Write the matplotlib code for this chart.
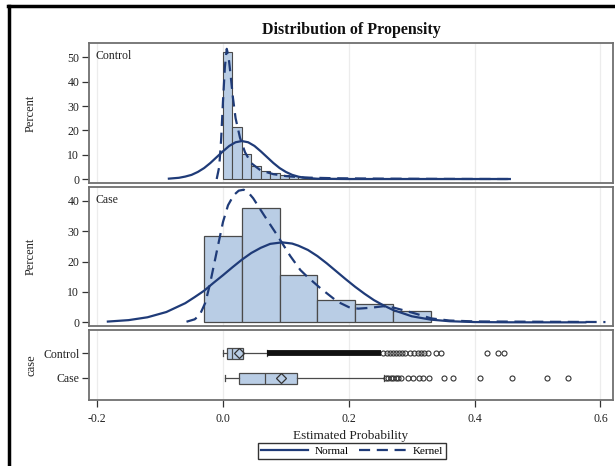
import numpy as np
import matplotlib
matplotlib.use("Agg")
import matplotlib.pyplot as plt
from matplotlib.lines import Line2D

plt.rcParams['font.family'] = ['Liberation Serif', 'DejaVu Serif']

# histogram data (percent per bin)
ctrl_bin_start = 0.0
ctrl_bin_width = 0.015
ctrl_pct = [52.0, 21.5, 10.3, 5.5, 3.3, 2.3, 1.6, 1.2, 0.9, 0.6,
            0.45, 0.35, 0.25, 0.2, 0.15, 0.12, 0.1, 0.08, 0.06, 0.05,
            0.04, 0.03, 0.02, 0.02, 0.01, 0.01, 0.01, 0.01, 0.005, 0.005]
case_bin_start = -0.03
case_bin_width = 0.06
case_pct = [28.4, 37.7, 15.6, 7.3, 5.9, 3.7]

# fitted curves
ctrl_norm_x = [-0.086, -0.07, -0.06, -0.05, -0.04, -0.03, -0.02, -0.01, 0.0, 0.01, 0.02,
               0.03, 0.04, 0.05, 0.06, 0.07, 0.08, 0.09, 0.10, 0.11, 0.12, 0.13,
               0.15, 0.2, 0.456]
ctrl_norm_y = [0.15, 0.5, 1.0, 1.7, 2.9, 4.5, 6.6, 9.0, 11.4, 13.6, 15.1,
               15.6, 15.1, 13.6, 11.4, 9.0, 6.6, 4.5, 2.9, 1.7, 0.95, 0.5,
               0.1, 0.0, 0.0]
ctrl_kern_x = [-0.010, -0.006, -0.003, 0.0, 0.003, 0.006, 0.009, 0.012, 0.016, 0.02,
               0.027, 0.035, 0.045, 0.06, 0.08, 0.10, 0.13, 0.18, 0.25, 0.35, 0.455]
ctrl_kern_y = [0.0, 5.0, 16.0, 32.0, 46.0, 53.5, 50.0, 43.0, 33.0, 25.0,
               17.0, 11.0, 6.5, 3.5, 2.0, 1.2, 0.6, 0.3, 0.15, 0.05, 0.0]
case_norm_x = [-0.183, -0.15, -0.12, -0.09, -0.06, -0.045, -0.03, -0.015, 0.0, 0.015,
               0.03, 0.045, 0.06, 0.075, 0.094, 0.11, 0.12, 0.135, 0.15, 0.165, 0.18,
               0.195, 0.21, 0.225, 0.24, 0.255, 0.27, 0.30, 0.33, 0.36, 0.40, 0.45,
               0.5, 0.576]
case_norm_y = [0.26, 0.73, 1.67, 3.4, 6.3, 8.3, 10.4, 13.0, 15.5, 18.1,
               20.6, 22.8, 24.5, 25.8, 26.3, 25.9, 25.2, 23.8, 21.8, 19.4, 16.8,
               14.2, 11.7, 9.4, 7.3, 5.6, 4.1, 2.0, 0.9, 0.37, 0.1, 0.02,
               0.0, 0.0]
case_kern_x = [-0.058, -0.045, -0.037, -0.028, -0.021, -0.010, 0.0, 0.008, 0.017, 0.025,
               0.033, 0.041, 0.048, 0.065, 0.086, 0.107, 0.123, 0.134, 0.155, 0.182,
               0.2, 0.215, 0.235, 0.255, 0.272, 0.29, 0.304, 0.331, 0.36, 0.4, 0.5, 0.608]
case_kern_y = [0.2, 1.0, 2.4, 6.5, 12.3, 23.2, 33.0, 38.5, 41.8, 43.3,
               43.6, 42.5, 40.8, 35.3, 28.7, 21.8, 17.2, 15.0, 11.2, 6.8,
               5.0, 4.5, 4.8, 5.3, 4.8, 3.8, 3.0, 1.3, 0.6, 0.3, 0.2, 0.1]

# box plot summary
groups = ['Case', 'Control']
q1 = [0.026, 0.006]
med = [0.066, 0.015]
q3 = [0.118, 0.032]
whislo = [0.003, 0.0]
whishi = [0.256, 0.070]
means = [0.093, 0.026]
case_out = [0.259, 0.263, 0.267, 0.271, 0.275, 0.279, 0.283, 0.294, 0.302, 0.312,
            0.318, 0.328, 0.352, 0.366, 0.408, 0.459, 0.515, 0.549]
ctrl_dense = [0.070, 0.251]
ctrl_out = [0.255, 0.26, 0.265, 0.27, 0.275, 0.28, 0.285, 0.29, 0.297, 0.303,
            0.31, 0.315, 0.32, 0.326, 0.339, 0.346, 0.419, 0.437, 0.446]

xticks = [-0.2, 0.0, 0.2, 0.4, 0.6]

FILL = '#b9cde5'
EDGE = '#4a4a4a'
CURVE = '#1f3b78'
FRAME = '#707070'
GRID = '#ececec'
W, H = 615, 466

fig = plt.figure(figsize=(W / 100, H / 100), dpi=100)

def px_axes(left, top, right, bottom):
    return fig.add_axes([left / W, 1 - bottom / H, (right - left) / W, (bottom - top) / H])

ax1 = px_axes(89, 43, 613, 183)
ax2 = px_axes(89, 187, 613, 326)
ax3 = px_axes(89, 330, 613, 400)

xlim = (-0.213, 0.620)
for ax in (ax1, ax2, ax3):
    ax.set_xlim(*xlim)
    ax.set_xticks(xticks)
    for x in xticks:
        ax.axvline(x, color=GRID, lw=0.9, zorder=0)
    for s in ax.spines.values():
        s.set_color(FRAME)
        s.set_linewidth(1.3)
    ax.tick_params(axis='y', length=5, width=0.9, color='#333333', pad=2,
                   labelsize=8.5, labelcolor='#222222')

for ax in (ax1, ax2):
    ax.tick_params(axis='x', length=0, labelbottom=False)

# top panel: control
lefts = ctrl_bin_start + ctrl_bin_width * np.arange(len(ctrl_pct))
ax1.bar(lefts, ctrl_pct, width=ctrl_bin_width, align='edge', color=FILL,
        edgecolor=EDGE, linewidth=0.8, zorder=2)
ax1.plot(ctrl_norm_x, ctrl_norm_y, color=CURVE, lw=1.6, zorder=3)
ax1.plot(ctrl_kern_x, ctrl_kern_y, color=CURVE, lw=1.6, ls=(0, (5, 3)), zorder=3)
ax1.set_ylim(-1.64, 55.9)
ax1.set_yticks([0, 10, 20, 30, 40, 50])
ax1.text(0.013, 0.91, 'Control', transform=ax1.transAxes, fontsize=8.5,
         color='#222222', va='center')

# middle panel: case
lefts = case_bin_start + case_bin_width * np.arange(len(case_pct))
ax2.bar(lefts, case_pct, width=case_bin_width, align='edge', color=FILL,
        edgecolor=EDGE, linewidth=0.9, zorder=2)
ax2.plot(case_norm_x, case_norm_y, color=CURVE, lw=1.6, zorder=3)
ax2.plot(case_kern_x, case_kern_y, color=CURVE, lw=1.6, ls=(0, (5, 3)), zorder=3)
ax2.set_ylim(-1.2, 44.5)
ax2.set_yticks([0, 10, 20, 30, 40])
ax2.text(0.013, 0.91, 'Case', transform=ax2.transAxes, fontsize=8.5,
         color='#222222', va='center')

for ax in (ax1, ax2):
    ax.set_ylabel('Percent', fontsize=9, color='#222222')
    ax.yaxis.set_label_coords(-0.099, 0.5)

# bottom panel: box plots
stats = []
for i in range(len(groups)):
    stats.append(dict(label=groups[i], q1=q1[i], med=med[i], q3=q3[i],
                      whislo=whislo[i], whishi=whishi[i], mean=means[i],
                      fliers=case_out if groups[i] == 'Case' else ctrl_out))
ax3.bxp(stats, positions=[0, 1], orientation='horizontal', widths=0.44,
        showmeans=True, patch_artist=True, capwidths=0.22,
        boxprops=dict(facecolor=FILL, edgecolor=EDGE, linewidth=0.9),
        medianprops=dict(color=EDGE, linewidth=0.9),
        whiskerprops=dict(color=EDGE, linewidth=0.9),
        capprops=dict(color=EDGE, linewidth=0.9),
        meanprops=dict(marker='D', markersize=5, markerfacecolor='none',
                       markeredgecolor='#333333', markeredgewidth=0.9),
        flierprops=dict(marker='o', markersize=3.6, markerfacecolor='none',
                        markeredgecolor='#333333', markeredgewidth=0.8))
ax3.hlines(1, ctrl_dense[0], ctrl_dense[1], color='#111111', lw=4.2, zorder=4)
ax3.set_ylim(-0.88, 1.92)
ax3.set_yticks([0, 1])
ax3.set_yticklabels(groups)
ax3.set_ylabel('case', fontsize=9, color='#222222')
ax3.yaxis.set_label_coords(-0.099, 0.5)
ax3.set_xticklabels(['-0.2', '0.0', '0.2', '0.4', '0.6'])
ax3.tick_params(axis='x', length=5, width=0.9, color='#333333', pad=4,
                labelsize=8.5, labelcolor='#222222')
ax3.set_xlabel('Estimated Probability', fontsize=9.5, color='#222222', labelpad=4)

fig.text(351 / W, 1 - 30 / H, 'Distribution of Propensity', ha='center',
         va='center', fontsize=11.5, fontweight='bold', color='#111111')

handles = [Line2D([], [], color=CURVE, lw=1.6),
           Line2D([], [], color=CURVE, lw=1.6, ls=(0, (5, 3)))]
fig.legend(handles, ['Normal', 'Kernel'], loc='center',
           bbox_to_anchor=(352 / W, 1 - 451 / H), ncol=2, fontsize=8,
           frameon=True, fancybox=False, edgecolor='#333333', framealpha=1,
           handlelength=4.2, handletextpad=0.6, columnspacing=1.0,
           borderpad=0.25, borderaxespad=0)

# dark frame along top and left edges of the screenshot
fig.add_artist(Line2D([8 / W, 1], [1 - 6 / H, 1 - 6 / H], transform=fig.transFigure,
                      color='black', lw=2.5))
fig.add_artist(Line2D([9 / W, 9 / W], [0, 1 - 6 / H], transform=fig.transFigure,
                      color='black', lw=2.5))

fig.savefig('out.png', dpi=100)
